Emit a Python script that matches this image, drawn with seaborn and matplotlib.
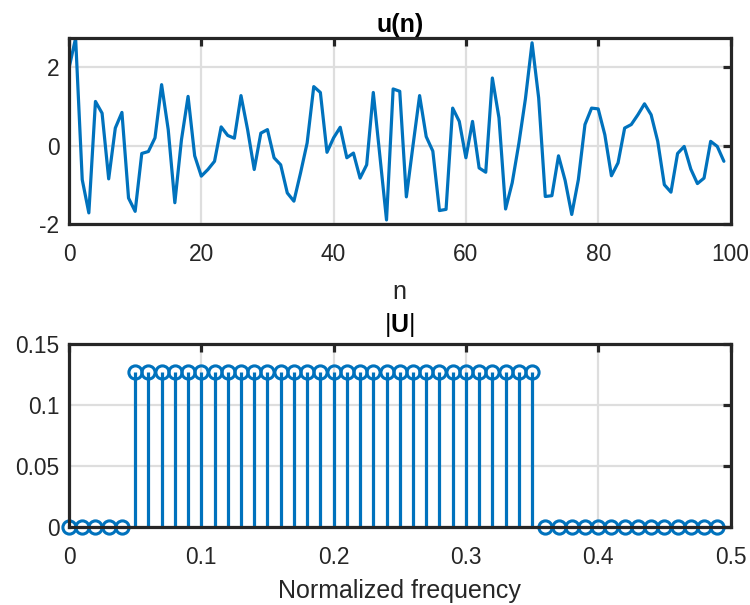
import numpy as np
import pandas as pd
import matplotlib
matplotlib.use("Agg")
import matplotlib.pyplot as plt
import seaborn as sns

# ---- data ----
n_idx = list(range(100))
u_vals = [1.98, 2.75, -0.87, -1.72, 1.13, 0.83, -0.85, 0.45, 0.85, -1.34,
          -1.68, -0.20, -0.15, 0.20, 1.56, 0.41, -1.46, 0.15, 1.26, -0.26,
          -0.78, -0.61, -0.40, 0.48, 0.26, 0.19, 1.28, 0.41, -0.61, 0.32,
          0.41, -0.31, -0.49, -1.21, -1.42, -0.70, 0.07, 1.51, 1.36, -0.17,
          0.20, 0.47, -0.31, -0.19, -0.83, -0.49, 1.36, -0.27, -1.90, 1.45,
          1.39, -1.31, 0.00, 1.28, 0.23, -0.14, -1.66, -1.63, 0.96, 0.62,
          -0.31, 0.62, -0.57, -0.68, 1.73, 0.71, -1.62, -0.95, 0.05, 1.20,
          2.63, 1.22, -1.30, -1.28, -0.26, -0.89, -1.76, -0.87, 0.54, 0.96,
          0.94, 0.28, -0.77, -0.44, 0.45, 0.54, 0.79, 1.07, 0.79, 0.11,
          -1.00, -1.19, -0.20, -0.02, -0.60, -0.97, -0.83, 0.11, -0.02, -0.40]

freq = [0.00, 0.01, 0.02, 0.03, 0.04, 0.05, 0.06, 0.07, 0.08, 0.09,
        0.10, 0.11, 0.12, 0.13, 0.14, 0.15, 0.16, 0.17, 0.18, 0.19,
        0.20, 0.21, 0.22, 0.23, 0.24, 0.25, 0.26, 0.27, 0.28, 0.29,
        0.30, 0.31, 0.32, 0.33, 0.34, 0.35, 0.36, 0.37, 0.38, 0.39,
        0.40, 0.41, 0.42, 0.43, 0.44, 0.45, 0.46, 0.47, 0.48, 0.49]
mag = [0, 0, 0, 0, 0,
       0.127, 0.127, 0.127, 0.127, 0.127, 0.127, 0.127, 0.127, 0.127, 0.127,
       0.127, 0.127, 0.127, 0.127, 0.127, 0.127, 0.127, 0.127, 0.127, 0.127,
       0.127, 0.127, 0.127, 0.127, 0.127, 0.127, 0.127, 0.127, 0.127, 0.127,
       0.127,
       0, 0, 0, 0, 0, 0, 0, 0, 0, 0, 0, 0, 0, 0]

top_xticks = [0, 20, 40, 60, 80, 100]
top_yticks = [-2, 0, 2]
bot_xticks = [0, 0.1, 0.2, 0.3, 0.4, 0.5]
bot_xlabels = ["0", "0.1", "0.2", "0.3", "0.4", "0.5"]
bot_yticks = [0, 0.05, 0.1, 0.15]
bot_ylabels = ["0", "0.05", "0.1", "0.15"]

# ---- style ----
sns.set_theme(style="white")
plt.rcParams["font.family"] = ["Liberation Sans", "DejaVu Sans"]
plt.rcParams["mathtext.fontset"] = "custom"
plt.rcParams["mathtext.rm"] = "Liberation Sans"
plt.rcParams["mathtext.bf"] = "Liberation Sans:bold"
BLUE = "#0072BD"
DARK = "#262626"
GRID = "#dedede"
TFS = 16.4   # tick labels
LFS = 18.0   # axis labels / titles

fig = plt.figure(figsize=(7.5, 6.05), dpi=100)
ax1 = fig.add_axes([0.092, 0.630, 0.882, 0.307])
ax2 = fig.add_axes([0.092, 0.129, 0.882, 0.302])

df = pd.DataFrame({"n": n_idx, "u": u_vals})
sns.lineplot(data=df, x="n", y="u", ax=ax1, color=BLUE, linewidth=2.3)
ax1.set_xlim(0, 100)
ax1.set_ylim(-2, 2.75)
ax1.set_xticks(top_xticks)
ax1.set_yticks(top_yticks)
ax1.set_xticklabels([str(t) for t in top_xticks])
ax1.set_yticklabels([str(t) for t in top_yticks])
ax1.set_title("u(n)", fontsize=LFS, fontweight="bold", color="black", pad=4.5)
ax1.set_xlabel("n", fontsize=LFS, color=DARK, labelpad=10)
ax1.set_ylabel("")

# stems
ax2.vlines(freq, 0, mag, color=BLUE, linewidth=2.3, zorder=3)
ax2.plot(freq, mag, "o", markersize=9.5, markerfacecolor="none",
         markeredgecolor=BLUE, markeredgewidth=2.2, clip_on=False, zorder=4)
ax2.set_xlim(0, 0.5)
ax2.set_ylim(0, 0.15)
ax2.set_xticks(bot_xticks)
ax2.set_xticklabels(bot_xlabels)
ax2.set_yticks(bot_yticks)
ax2.set_yticklabels(bot_ylabels)
ax2.set_title(r"|$\mathbf{U}$|", fontsize=LFS, color="black", pad=9)
ax2.set_xlabel("Normalized frequency", fontsize=LFS, color=DARK, labelpad=7)

for ax in (ax1, ax2):
    ax.grid(True, color=GRID, linewidth=1.6)
    ax.set_axisbelow(True)
    for s in ax.spines.values():
        s.set_visible(True)
        s.set_color(DARK)
        s.set_linewidth(2.3)
        s.set_zorder(5)
    ax.tick_params(direction="in", length=6, width=2.3, color=DARK,
                   labelsize=TFS, labelcolor=DARK, top=True, right=True)
    ax.tick_params(axis="x", pad=14)
    ax.tick_params(axis="y", pad=7)

fig.savefig("out.png", dpi=100, facecolor="white")
